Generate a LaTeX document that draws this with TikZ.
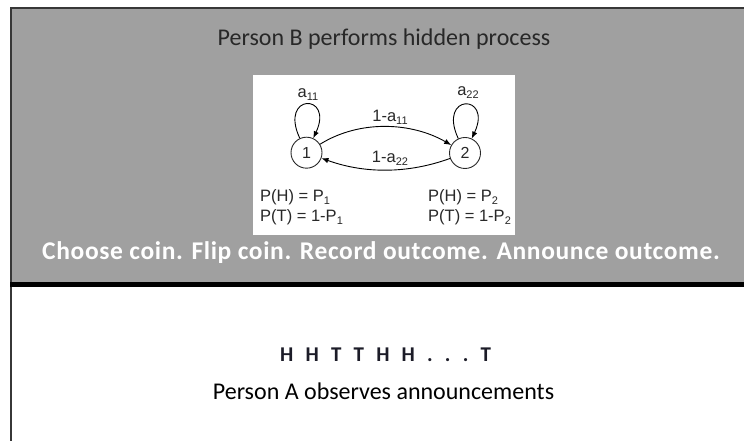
\documentclass[tikz,border=0pt]{standalone}
\usepackage{fontspec}
\setmainfont{Carlito}
\newfontfamily\arialf{Liberation Sans}
\usetikzlibrary{arrows.meta}
\definecolor{panelgray}{RGB}{160,160,160}
\definecolor{framegray}{RGB}{55,55,55}
\definecolor{inkgray}{RGB}{40,40,40}
\definecolor{seqink}{RGB}{28,28,40}
\newcommand{\sbs}[1]{\raisebox{-0.35ex}{\fontsize{11}{11}\selectfont #1}}
\newcommand{\seqkern}{\kern12.2pt}
\begin{document}
\begin{tikzpicture}[x=1pt,y=1pt,
  state/.style={circle, draw=inkgray, line width=0.9pt, minimum size=31pt, inner sep=0pt,
    font=\arialf\fontsize{16}{16}\selectfont, text=inkgray},
  lbl/.style={font=\arialf\fontsize{16.5}{16.5}\selectfont, text=inkgray, inner sep=0pt},
  arr/.style={draw=black, line width=0.9pt, -{Latex[length=7pt,width=5.5pt]}},
  bigtext/.style={font=\fontsize{24}{24}\selectfont, inner sep=0pt, anchor=base}]
\useasboundingbox (0,0) rectangle (744,441);
% panels
\fill[panelgray] (11,159) rectangle (744,433);
\fill[white] (253,206) rectangle (515,366);
\draw[framegray, line width=2pt] (744,433) -- (11,433) -- (11,0);
\draw[black, line width=5pt] (10,156.5) -- (744,156.5);
% texts
\node[bigtext, text=inkgray] (title) at (384,395) {Person B performs hidden process};
\node[bigtext, text=white, font=\bfseries\fontsize{25.5}{25.5}\selectfont\addfontfeatures{LetterSpace=2.5}] (steps) at (381,181) {Choose coin. Flip coin. Record outcome. Announce outcome.};
\node[inner sep=0pt, anchor=base west, text=seqink, font=\bfseries\fontsize{21}{21}\selectfont] (seq) at (280,79)
  {H\seqkern H\seqkern T\seqkern T\seqkern H\seqkern H\seqkern .\seqkern .\seqkern .\seqkern T};
\node[bigtext, text=black] (obs) at (383.5,41) {Person A observes announcements};
% hidden process diagram
\node[state] (n1) at (306.5,288.3) {1};
\node[state] (n2) at (465,288) {2};
\node[lbl] (a11) at (308,346) {a\sbs{11}};
\node[lbl] (a22) at (468,348) {a\sbs{22}};
\node[lbl] (t12) at (390,324) {1-a\sbs{11}};
\node[lbl] (t21) at (390,283) {1-a\sbs{22}};
\draw[arr] (n1) to[out=115,in=65,distance=50pt] (n1);
\draw[arr] (n2) to[out=115,in=65,distance=50pt] (n2);
\draw[arr] (n1) to[out=32,in=150,looseness=0.9] (n2);
\draw[arr] (n2) to[out=-160,in=-20,looseness=0.9] (n1);
\node[lbl, anchor=base west] (ph1) at (260,239.3) {P(H) = P\sbs{1}};
\node[lbl, anchor=base west] (pt1) at (260,219.3) {P(T) = 1-P\sbs{1}};
\node[lbl, anchor=base west] (ph2) at (428,239.3) {P(H) = P\sbs{2}};
\node[lbl, anchor=base west] (pt2) at (428,219.3) {P(T) = 1-P\sbs{2}};
\end{tikzpicture}
\end{document}
